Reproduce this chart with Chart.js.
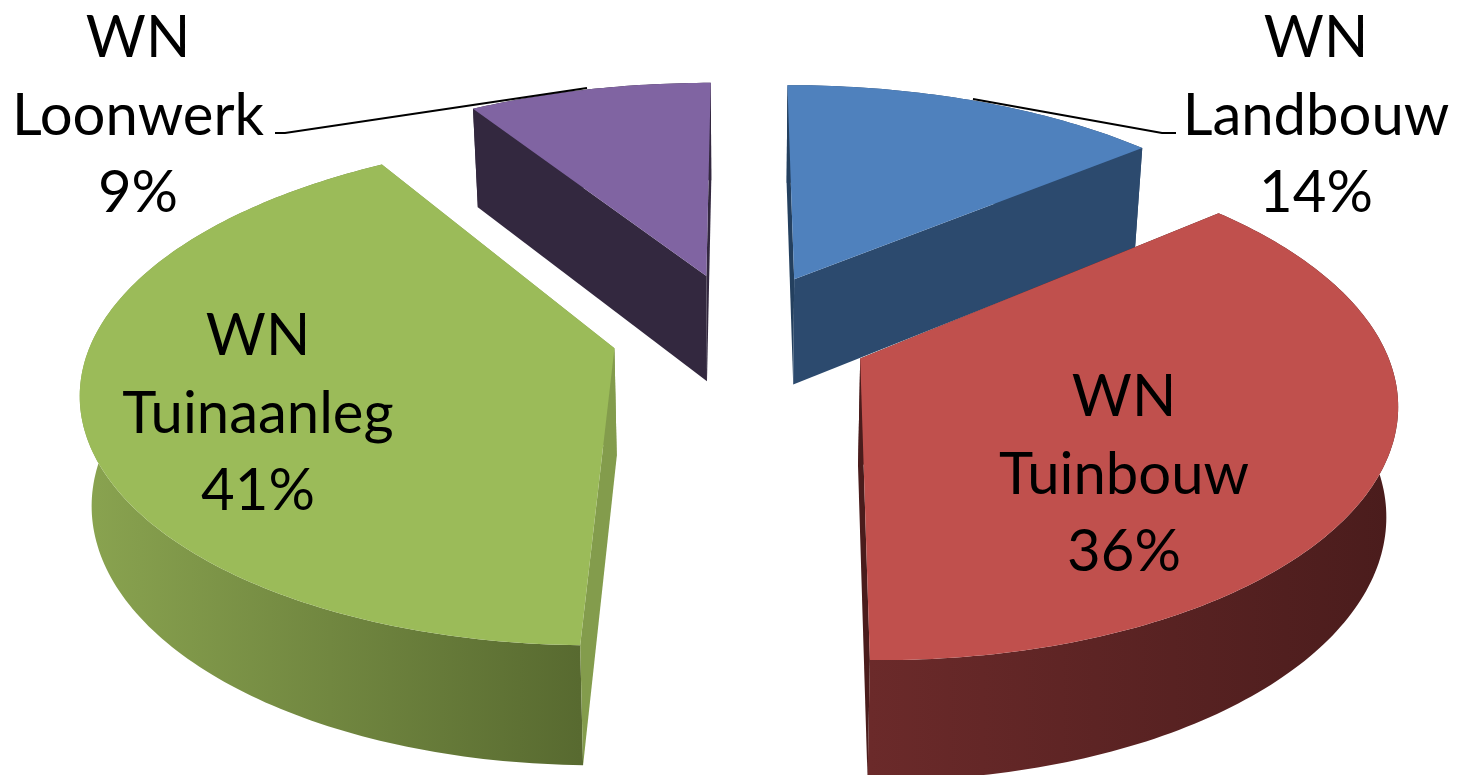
<!DOCTYPE html>
<html>
<head>
<meta charset="utf-8">
<title>WN verdeling</title>
<script src="https://cdn.jsdelivr.net/npm/chart.js@4"></script>
<style>
  html, body { margin: 0; padding: 0; background: #fff; overflow: hidden; }
  canvas { display: block; }
</style>
</head>
<body>
<canvas id="pie" width="1460" height="775"></canvas>
<script>
// Data
const categories = ['WN\nLandbouw', 'WN\nTuinbouw', 'WN\nTuinaanleg', 'WN\nLoonwerk'];
const shares = [13.9, 36.4, 40.8, 8.9];

// Slice colours: top face, cut faces, outer wall left and right
const topColors = ['#4f81bd', '#c0504d', '#9bbb59', '#8064a2'];
const cutStart = ['#24405f', '#4a1c1c', '#839c4c', '#33283f'];
const cutEnd = ['#2c4a6e', '#4a1c1c', '#839c4c', '#33283f'];
const wallLeft = ['#2c4a6e', '#6b2a2a', '#8aa450', '#33283f'];
const wallRight = ['#2c4a6e', '#4a1c1c', '#586a30', '#33283f'];

// Label anchor (centre x, y of first line baseline) and leader line for each slice
const labelPos = [[1316, 57], [1124, 416], [258, 355], [138, 57]];
const leaders = [[[1176, 133], [1162, 133], [973, 99]], null, null, [[275, 133], [285, 133], [587, 88]]];

// Perspective of the pie plane
const view = { cx: 741, cy: 332, rx: 520, ry: 242, kx: 0.15, ky: 0.165, explode: 0.25, drop: 100, dropGrow: 0.04, squeeze: 0.018 };
const lineHeight = 77.5;

// Unit disc point (u right, v towards viewer) to screen, h = 1 is the bottom of the pie
function project(u, v, h) {
  let x = view.cx + view.rx * u / (1 - view.kx * v);
  let y = view.cy + view.ry * v / (1 - view.ky * v);
  if (h) {
    x = view.cx + (x - view.cx) * (1 - view.squeeze);
    y += view.drop + view.dropGrow * (y - 147);
  }
  return [x, y];
}

function tracePath(ctx, pts) {
  ctx.beginPath();
  pts.forEach((p, i) => (i ? ctx.lineTo(p[0], p[1]) : ctx.moveTo(p[0], p[1])));
  ctx.closePath();
}

// Draws one slice from the geometry of the chart's own arc element
function drawSlice(ctx, arc, i) {
  const a0 = arc.startAngle;
  const a1 = arc.endAngle;
  const mid = (a0 + a1) / 2;
  const ou = Math.cos(mid) * view.explode;
  const ov = Math.sin(mid) * view.explode;
  const steps = Math.max(8, Math.round((a1 - a0) * 60));

  const rim = [];
  for (let s = 0; s <= steps; s++) {
    const a = a0 + (a1 - a0) * s / steps;
    rim.push([ou + Math.cos(a), ov + Math.sin(a)]);
  }
  const first = rim[0];
  const last = rim[rim.length - 1];

  // outer wall
  const topRim = rim.map(p => project(p[0], p[1], 0));
  const botRim = rim.map(p => project(p[0], p[1], 1));
  const xs = topRim.map(p => p[0]);
  const grad = ctx.createLinearGradient(Math.min(...xs), 0, Math.max(...xs), 0);
  grad.addColorStop(0, wallLeft[i]);
  grad.addColorStop(1, wallRight[i]);
  ctx.fillStyle = grad;
  tracePath(ctx, topRim.concat(botRim.slice().reverse()));
  ctx.fill();

  // cut faces
  [[first, cutStart[i]], [last, cutEnd[i]]].forEach(([p, color]) => {
    ctx.fillStyle = color;
    tracePath(ctx, [project(ou, ov, 0), project(p[0], p[1], 0), project(p[0], p[1], 1), project(ou, ov, 1)]);
    ctx.fill();
  });

  // top face
  ctx.fillStyle = topColors[i];
  tracePath(ctx, [project(ou, ov, 0)].concat(topRim));
  ctx.fill();
}

const pie3d = {
  id: 'pie3d',
  beforeDatasetDraw(chart, args) {
    const ctx = chart.ctx;
    ctx.save();
    // back slices first, so the red one ends up over the blue wall
    [3, 0, 2, 1].forEach(i => drawSlice(ctx, args.meta.data[i], i));
    ctx.restore();
    return false;
  },
  afterDraw(chart) {
    const ctx = chart.ctx;
    ctx.save();
    ctx.strokeStyle = '#000';
    ctx.lineWidth = 2;
    leaders.forEach(line => {
      if (!line) return;
      ctx.beginPath();
      line.forEach((p, j) => (j ? ctx.lineTo(p[0], p[1]) : ctx.moveTo(p[0], p[1])));
      ctx.stroke();
    });
    ctx.fillStyle = '#000';
    ctx.font = '58px Lato';
    ctx.textAlign = 'center';
    ctx.textBaseline = 'alphabetic';
    categories.forEach((name, i) => {
      const lines = name.split('\n').concat(Math.round(shares[i]) + '%');
      lines.forEach((t, j) => ctx.fillText(t, labelPos[i][0], labelPos[i][1] + j * lineHeight));
    });
    ctx.restore();
  }
};

new Chart(document.getElementById('pie'), {
  type: 'pie',
  data: {
    labels: categories,
    datasets: [{ data: shares, backgroundColor: topColors, borderWidth: 0 }]
  },
  options: {
    responsive: false,
    animation: false,
    plugins: { legend: { display: false }, tooltip: { enabled: false } }
  },
  plugins: [pie3d]
});
</script>
</body>
</html>
